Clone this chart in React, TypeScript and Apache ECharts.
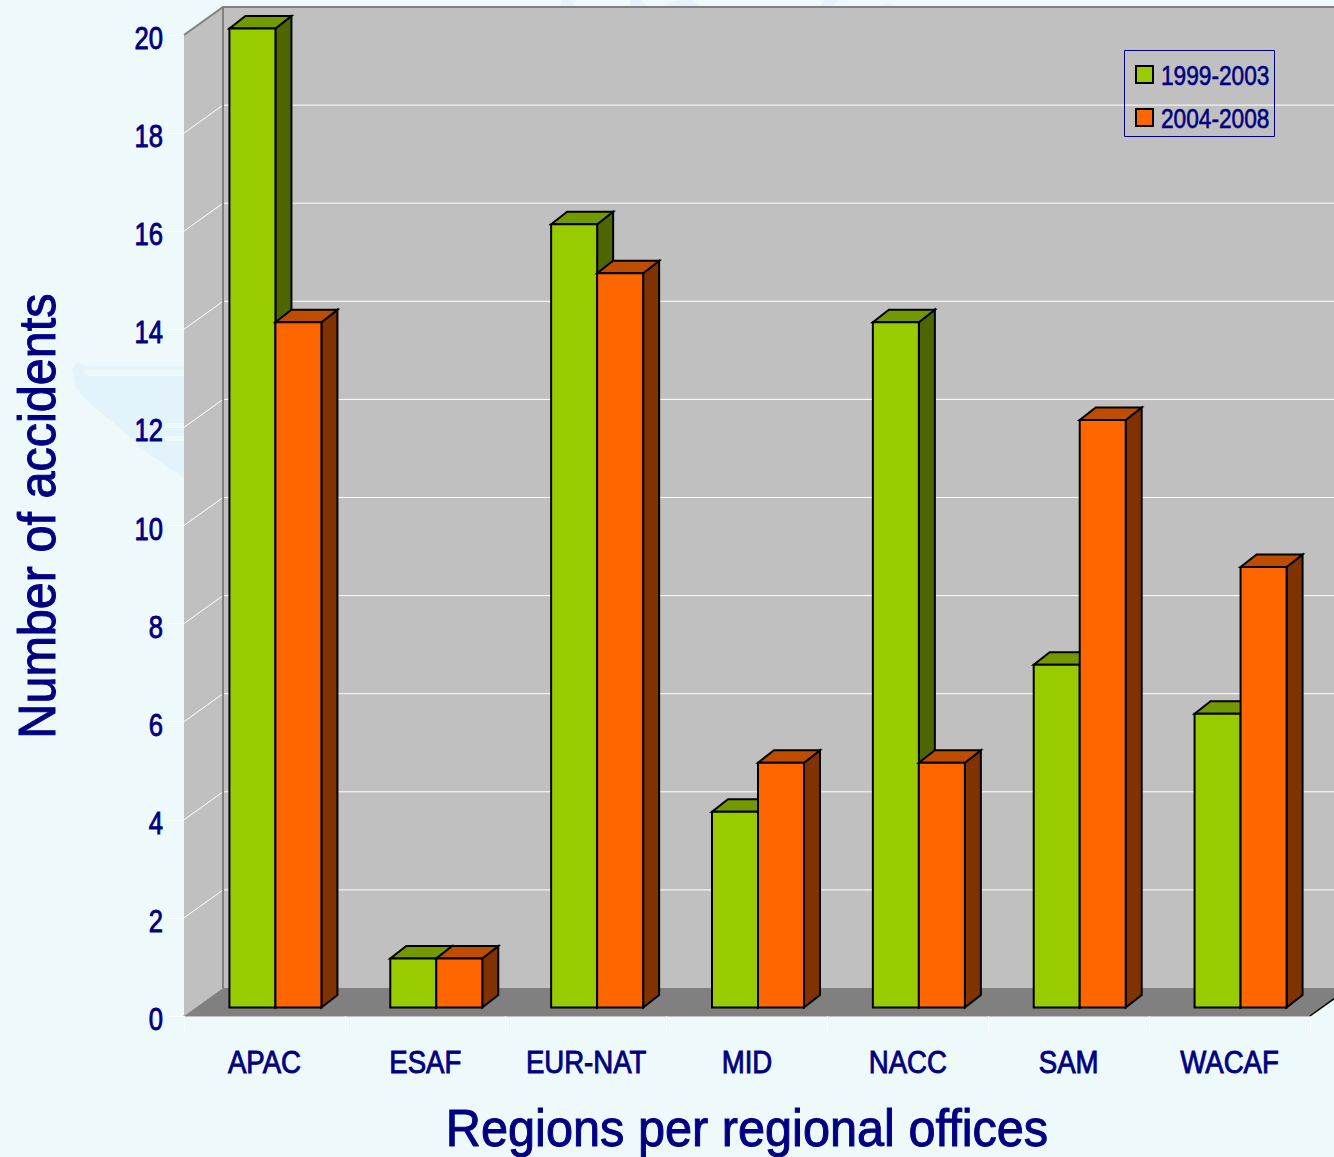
import React, { useEffect, useRef } from "react";
import * as echarts from "echarts";

const categories = ["APAC", "ESAF", "EUR-NAT", "MID", "NACC", "SAM", "WACAF"];
const seriesA = [20, 1, 16, 4, 14, 7, 6];
const seriesB = [14, 1, 15, 5, 5, 12, 9];
const nameA = "1999-2003";
const nameB = "2004-2008";
const yTitle = "Number of accidents";
const xTitle = "Regions per regional offices";
const yLabels = [0, 2, 4, 6, 8, 10, 12, 14, 16, 18, 20];
const yTicks = [2, 4, 6, 8, 10, 12, 14, 16, 18];

const FONT = "'Liberation Sans', Arial, sans-serif";
const NAVY = "#000080";
const BG = "#EEF9FB";
const WM = "#E3F3FB";
const GREEN = "#99CC00";
const ORANGE = "#FF6600";

const DX = 39;
const DY = -28;

function wallItem(params: any, api: any) {
  const cs = params.coordSys;
  const left = cs.x;
  const right = cs.x + cs.width;
  const y0 = api.coord([0, 0])[1];
  const yTop = api.coord([0, 20])[1];
  const children: any[] = [
    {
      type: "polygon",
      shape: { points: [[left + DX, yTop + DY], [right + DX, yTop + DY], [right + DX, y0 + DY], [left + DX, y0 + DY]] },
      style: { fill: "#C0C0C0", stroke: "none" },
    },
    {
      type: "polygon",
      shape: { points: [[left, yTop], [left + DX, yTop + DY], [left + DX, y0 + DY], [left, y0]] },
      style: { fill: "#C0C0C0", stroke: "none" },
    },
  ];
  yTicks.forEach((t) => {
    const y = api.coord([0, t])[1];
    children.push({
      type: "polyline",
      shape: { points: [[left, y], [left + DX, y + DY], [right + DX, y + DY]] },
      style: { fill: "none", stroke: "#FFFFFF", lineWidth: 1 },
    });
  });
  children.push(
    {
      type: "polygon",
      shape: { points: [[left, y0], [left + DX, y0 + DY], [right + DX, y0 + DY], [right, y0]] },
      style: { fill: "#808080", stroke: "none" },
    },
    {
      type: "polyline",
      shape: { points: [[left, yTop], [left + DX, yTop + DY], [right + DX, yTop + DY]] },
      style: { fill: "none", stroke: "#808080", lineWidth: 2 },
    },
    {
      type: "line",
      shape: { x1: left + DX, y1: yTop + DY, x2: left + DX, y2: y0 + DY },
      style: { stroke: "#808080", lineWidth: 2 },
    },
    {
      type: "line",
      shape: { x1: right, y1: y0, x2: right + DX, y2: y0 + DY },
      style: { stroke: "#000000", lineWidth: 1.5 },
    }
  );
  return { type: "group", children };
}

function barRenderer(off0: number, off1: number, front: string, top: string, side: string) {
  return (_p: any, api: any) => {
    const c = api.coord([api.value(0), api.value(1)]);
    const base = api.coord([api.value(0), 0]);
    const yb = base[1] - 8.5;
    const yt = yb + (c[1] - base[1]) * 0.998;
    const x0 = c[0] + off0;
    const x1 = c[0] + off1;
    const dx = 16;
    const dy = -12.5;
    const st = { stroke: "#000000", lineWidth: 2, lineJoin: "miter" };
    return {
      type: "group",
      children: [
        { type: "polygon", shape: { points: [[x1, yt], [x1 + dx, yt + dy], [x1 + dx, yb + dy], [x1, yb]] }, style: { fill: side, ...st } },
        { type: "polygon", shape: { points: [[x0, yt], [x0 + dx, yt + dy], [x1 + dx, yt + dy], [x1, yt]] }, style: { fill: top, ...st } },
        { type: "polygon", shape: { points: [[x0, yt], [x1, yt], [x1, yb], [x0, yb]] }, style: { fill: front, ...st } },
      ],
    };
  };
}

// Reference type is a condensed face; the text is real text, narrowed horizontally.
const txt = (text: string, x: number, y: number, size: number, sx: number, align: string, weight = 0.9) => ({
  type: "text",
  x,
  y,
  scaleX: sx,
  silent: true,
  style: {
    text,
    fill: NAVY,
    font: `${size}px ${FONT}`,
    align,
    verticalAlign: "middle",
    stroke: NAVY,
    lineWidth: weight,
  },
});

function labelItem(params: any, api: any) {
  const cs = params.coordSys;
  const children: any[] = [];
  yLabels.forEach((v) => {
    children.push(txt(String(v), 163, api.coord([0, v])[1] + 3, 32, 0.8, "right"));
  });
  categories.forEach((c, i) => {
    children.push(txt(c, api.coord([i, 0])[0], cs.y + cs.height + 46, 31, 0.89, "center"));
  });
  children.push(txt(xTitle, cs.x + cs.width / 2, cs.y + cs.height + 112, 52, 0.936, "center", 1));
  children.push({ ...txt(yTitle, 37, 516, 52, 0.934, "center", 1), rotation: Math.PI / 2 });
  return { type: "group", children };
}

const wm = (points: number[][], fill = WM) => ({
  type: "polygon",
  z: 0,
  silent: true,
  shape: { points },
  style: { fill },
});

const swatch = (y: number, fill: string) => ({
  type: "rect",
  z: 10,
  silent: true,
  shape: { x: 1136, y, width: 17, height: 17 },
  style: { fill, stroke: "#000000", lineWidth: 2 },
});

export default function App() {
  const ref = useRef<HTMLDivElement>(null);
  useEffect(() => {
    document.body.style.margin = "0";
    const chart = echarts.init(ref.current!, null, { renderer: "svg" });
    chart.setOption({
      animation: false,
      backgroundColor: "transparent",
      textStyle: { fontFamily: FONT },
      graphic: [
        wm([[72, 368], [78, 362], [85, 366], [184, 366], [184, 478], [165, 465], [140, 447], [115, 424], [92, 405], [76, 388]]),
        wm([[83, 370], [184, 370], [184, 376], [90, 376], [84, 373]], BG),
        wm([[165, 423], [184, 423], [184, 428], [165, 428]], BG),
        wm([[165, 436], [184, 436], [184, 441], [165, 441]], BG),
        wm([[561, 0], [572, 0], [575, 7], [560, 7]]),
        wm([[630, 0], [642, 0], [646, 7], [630, 7]]),
        wm([[660, 7], [675, 1], [692, 0], [702, 7]]),
        wm([[825, 0], [838, 0], [832, 7], [820, 7]]),
        wm([[878, 7], [888, 3], [898, 7]]),
        {
          type: "rect",
          z: 10,
          silent: true,
          shape: { x: 1124.5, y: 50.5, width: 150, height: 86 },
          style: { fill: "none", stroke: NAVY, lineWidth: 1 },
        },
        swatch(66, GREEN),
        swatch(109, ORANGE),
        { ...txt(nameA, 1161, 75, 28, 0.81, "left", 0.6), z: 10 },
        { ...txt(nameB, 1161, 118, 28, 0.81, "left", 0.6), z: 10 },
      ],
      grid: { left: 184, right: 24, top: 35, bottom: 141, containLabel: false, outerBoundsMode: "none" },
      xAxis: {
        type: "category",
        data: categories,
        axisLine: { show: true, lineStyle: { color: "#C0C0C0", width: 2 } },
        axisTick: { show: true, length: 17, lineStyle: { color: "#FFFFFF", width: 1 } },
        axisLabel: { show: false },
        splitLine: { show: false },
      },
      yAxis: {
        type: "value",
        min: 0,
        max: 20,
        interval: 2,
        axisLine: { show: true, lineStyle: { color: "#D0D0D0", width: 1 } },
        axisTick: { show: true, length: 16, lineStyle: { color: "#FFFFFF", width: 1 } },
        axisLabel: { show: false },
        splitLine: { show: false },
      },
      series: [
        {
          type: "custom",
          name: "walls",
          z: 1,
          clip: false,
          silent: true,
          data: [[0, 0]],
          encode: { x: 0, y: 1 },
          renderItem: wallItem,
        },
        {
          type: "custom",
          name: nameA,
          z: 3,
          clip: false,
          itemStyle: { color: GREEN },
          data: seriesA.map((v, i) => [i, v]),
          encode: { x: 0, y: 1 },
          renderItem: barRenderer(-35, 11, GREEN, "#739900", "#4D6600"),
        },
        {
          type: "custom",
          name: nameB,
          z: 4,
          clip: false,
          itemStyle: { color: ORANGE },
          data: seriesB.map((v, i) => [i, v]),
          encode: { x: 0, y: 1 },
          renderItem: barRenderer(11, 57, ORANGE, "#BF4D00", "#803300"),
        },
        {
          type: "custom",
          name: "labels",
          z: 5,
          clip: false,
          silent: true,
          data: [[0, 0]],
          encode: { x: 0, y: 1 },
          renderItem: labelItem,
        },
      ],
    });
    return () => chart.dispose();
  }, []);
  return (
    <div
      ref={ref}
      style={{ position: "absolute", left: 0, top: 0, width: 1334, height: 1157, background: BG, overflow: "hidden" }}
    />
  );
}
